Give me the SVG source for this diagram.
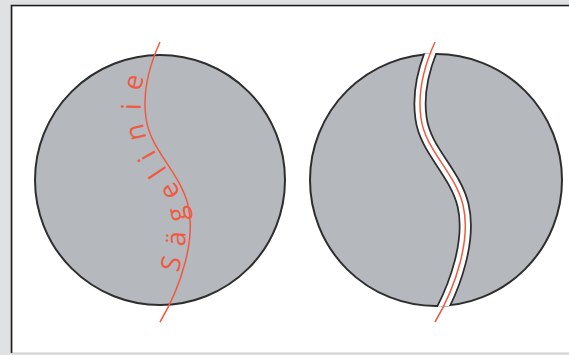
<svg xmlns="http://www.w3.org/2000/svg" width="569" height="355" viewBox="0 0 569 355">
  <defs>
    <style>
      .disc { fill: #b5b8bc; stroke: #2e2e2e; stroke-width: 2; }
      .saw { fill: none; stroke: #f05a42; stroke-width: 1.5; }
      .kerf-edge { fill: none; stroke: #2e2e2e; stroke-width: 13; }
      .kerf-gap { fill: none; stroke: #ffffff; stroke-width: 9.5; }
      .label { font-family: "Open Sans", "Liberation Sans", sans-serif; font-size: 27px; fill: #f05a42; letter-spacing: 12px; }
    </style>
    <path id="sawline" d="M160,42 C150,64 142,90 146,118 C150,150 180,172 188,205 C196,238 182,285 160,322"/>
    <path id="labelpath" d="M156,322 C178,285 192,238 184,205 C176,172 146,150 142,118 C138,90 146,64 156,42"/>
    <clipPath id="clipR">
      <circle cx="436" cy="180" r="127"/>
    </clipPath>
  </defs>

  <rect x="0" y="0" width="569" height="355" fill="#dfe1e3"/>
  <rect x="12" y="6" width="560" height="347" fill="#ffffff" stroke="#c9cbcd" stroke-width="1"/>
  <path d="M11.5,353 L11.5,5.5 L569,5.5" fill="none" stroke="#1e1e1e" stroke-width="1.6"/>

  <g id="disc-left">
    <circle class="disc" cx="160" cy="180" r="125"/>
  </g>

  <g id="disc-right">
    <circle class="disc" cx="436" cy="180" r="126"/>
    <g clip-path="url(#clipR)">
      <use href="#sawline" class="kerf-edge" transform="translate(275,0)"/>
      <use href="#sawline" class="kerf-gap" transform="translate(275,0)"/>
    </g>
  </g>

  <g id="connectors">
    <use href="#sawline" class="saw"/>
    <use href="#sawline" class="saw" transform="translate(275,0)"/>
  </g>

  <g id="label">
    <text class="label"><textPath href="#labelpath" startOffset="54">Sägelinie</textPath></text>
  </g>
</svg>
